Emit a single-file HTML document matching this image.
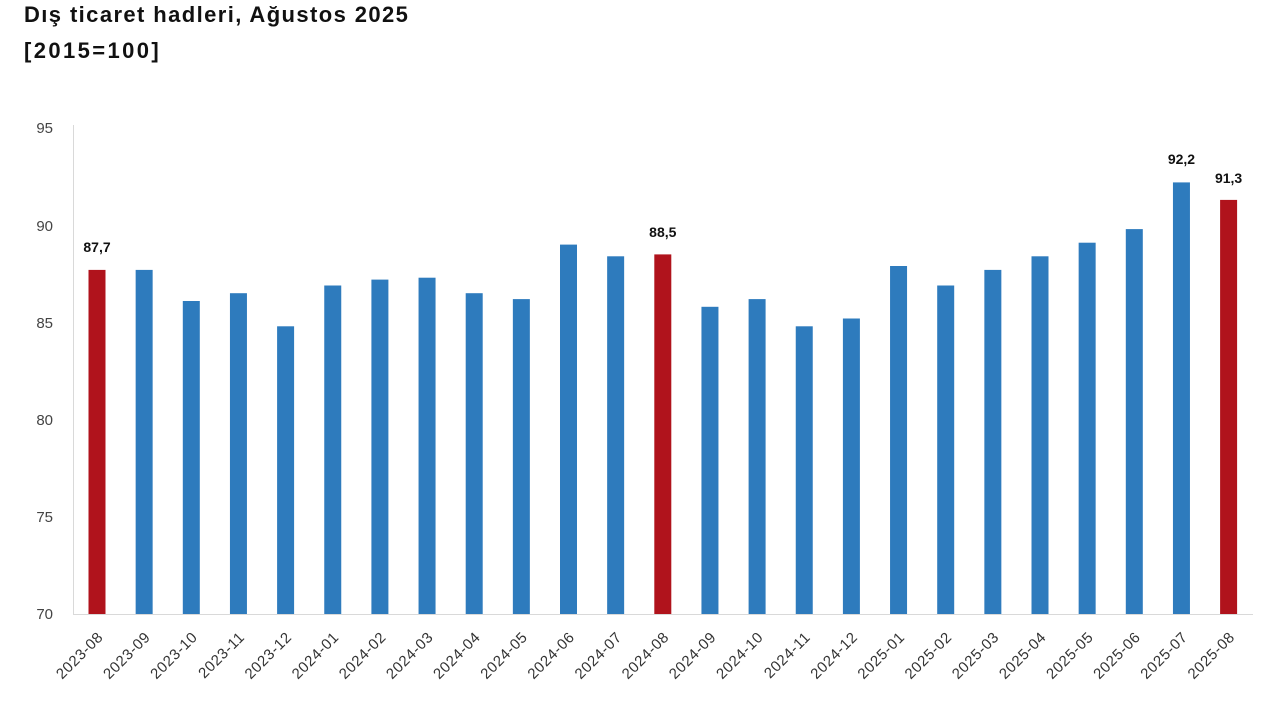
<!DOCTYPE html>
<html><head><meta charset="utf-8"><style>
html,body{margin:0;padding:0;background:#fff;width:1280px;height:720px;overflow:hidden}
svg{display:block}
</style></head><body>
<svg width="1280" height="720" xmlns="http://www.w3.org/2000/svg" font-family="Liberation Sans, DejaVu Sans, sans-serif">
<text x="24" y="22" font-size="22" font-weight="bold" fill="#111" letter-spacing="1.4">Dış ticaret hadleri, Ağustos 2025</text>
<text x="24" y="58" font-size="22" font-weight="bold" fill="#111" letter-spacing="2.4">[2015=100]</text>
<line x1="73.5" y1="125" x2="73.5" y2="614" stroke="#d9d9d9" stroke-width="1"/>
<line x1="73" y1="614.5" x2="1253" y2="614.5" stroke="#d9d9d9" stroke-width="1"/>
<g font-size="15" fill="#444" text-anchor="end">
<text x="53" y="133">95</text><text x="53" y="231">90</text><text x="53" y="328">85</text>
<text x="53" y="425">80</text><text x="53" y="522">75</text><text x="53" y="619">70</text>
</g>
<g fill="#2e7bbd">
<rect x="88.5" y="269.9" width="17" height="344.1" fill="#b0131c"/>
<rect x="135.65" y="269.9" width="17" height="344.1"/>
<rect x="182.8" y="301.0" width="17" height="313.0"/>
<rect x="229.95" y="293.2" width="17" height="320.8"/>
<rect x="277.1" y="326.3" width="17" height="287.7"/>
<rect x="324.25" y="285.5" width="17" height="328.5"/>
<rect x="371.4" y="279.6" width="17" height="334.4"/>
<rect x="418.55" y="277.7" width="17" height="336.3"/>
<rect x="465.7" y="293.2" width="17" height="320.8"/>
<rect x="512.85" y="299.1" width="17" height="314.9"/>
<rect x="560" y="244.6" width="17" height="369.4"/>
<rect x="607.15" y="256.3" width="17" height="357.7"/>
<rect x="654.3" y="254.4" width="17" height="359.6" fill="#b0131c"/>
<rect x="701.45" y="306.8" width="17" height="307.2"/>
<rect x="748.6" y="299.1" width="17" height="314.9"/>
<rect x="795.75" y="326.3" width="17" height="287.7"/>
<rect x="842.9" y="318.5" width="17" height="295.5"/>
<rect x="890.05" y="266.0" width="17" height="348.0"/>
<rect x="937.2" y="285.5" width="17" height="328.5"/>
<rect x="984.35" y="269.9" width="17" height="344.1"/>
<rect x="1031.5" y="256.3" width="17" height="357.7"/>
<rect x="1078.65" y="242.7" width="17" height="371.3"/>
<rect x="1125.8" y="229.1" width="17" height="384.9"/>
<rect x="1172.95" y="182.4" width="17" height="431.6"/>
<rect x="1220.1" y="199.9" width="17" height="414.1" fill="#b0131c"/>
</g>
<g font-size="14" font-weight="bold" fill="#111" text-anchor="middle">
<text x="97" y="252">87,7</text>
<text x="662.8" y="237">88,5</text>
<text x="1181.45" y="164">92,2</text>
<text x="1228.6" y="183">91,3</text>
</g>
<g font-size="15" fill="#333" text-anchor="end" letter-spacing="0.6">
<text transform="translate(104,638) rotate(-45)">2023-08</text>
<text transform="translate(151.15,638) rotate(-45)">2023-09</text>
<text transform="translate(198.3,638) rotate(-45)">2023-10</text>
<text transform="translate(245.45,638) rotate(-45)">2023-11</text>
<text transform="translate(292.6,638) rotate(-45)">2023-12</text>
<text transform="translate(339.75,638) rotate(-45)">2024-01</text>
<text transform="translate(386.9,638) rotate(-45)">2024-02</text>
<text transform="translate(434.05,638) rotate(-45)">2024-03</text>
<text transform="translate(481.2,638) rotate(-45)">2024-04</text>
<text transform="translate(528.35,638) rotate(-45)">2024-05</text>
<text transform="translate(575.5,638) rotate(-45)">2024-06</text>
<text transform="translate(622.65,638) rotate(-45)">2024-07</text>
<text transform="translate(669.8,638) rotate(-45)">2024-08</text>
<text transform="translate(716.95,638) rotate(-45)">2024-09</text>
<text transform="translate(764.1,638) rotate(-45)">2024-10</text>
<text transform="translate(811.25,638) rotate(-45)">2024-11</text>
<text transform="translate(858.4,638) rotate(-45)">2024-12</text>
<text transform="translate(905.55,638) rotate(-45)">2025-01</text>
<text transform="translate(952.7,638) rotate(-45)">2025-02</text>
<text transform="translate(999.85,638) rotate(-45)">2025-03</text>
<text transform="translate(1047,638) rotate(-45)">2025-04</text>
<text transform="translate(1094.15,638) rotate(-45)">2025-05</text>
<text transform="translate(1141.3,638) rotate(-45)">2025-06</text>
<text transform="translate(1188.45,638) rotate(-45)">2025-07</text>
<text transform="translate(1235.6,638) rotate(-45)">2025-08</text>
</g>
</svg>
</body></html>
